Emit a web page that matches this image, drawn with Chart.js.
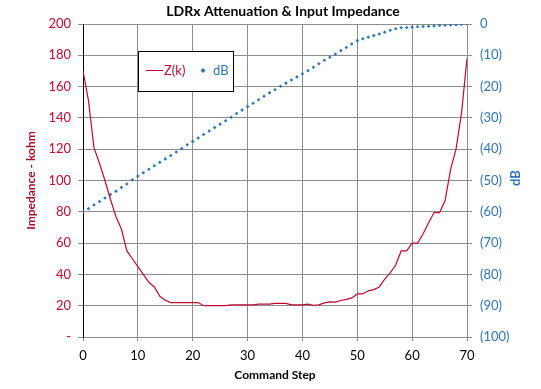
<!DOCTYPE html>
<html>
<head>
<meta charset="utf-8">
<script src="https://cdn.jsdelivr.net/npm/chart.js@4/dist/chart.umd.min.js"></script>
<style>
  html, body { margin: 0; padding: 0; background: #fff; }
  #wrap { width: 541px; height: 389px; position: relative; }
</style>
</head>
<body>
<div id="wrap"><canvas id="chart" width="541" height="389"></canvas></div>
<script>
// command steps 0..70
var steps = [0,1,2,3,4,5,6,7,8,9,10,11,12,13,14,15,16,17,18,19,20,21,22,23,24,25,26,27,28,29,30,
  31,32,33,34,35,36,37,38,39,40,41,42,43,44,45,46,47,48,49,50,51,52,53,54,55,56,57,58,59,60,
  61,62,63,64,65,66,67,68,69,70];

// input impedance, kohm
var impedance = [170,151,121,111,100,88,77,69,55,50,45,40,35,32,26,23.5,22,22,22,22,22,
  22,20,20,20,20,20,20.5,20.5,20.5,20.5,20.5,21,21,21,21.5,21.5,21.5,20.5,20.5,20.5,
  21,20.2,20.5,21.8,22.5,22.3,23.3,24,25,27.5,27.5,29.5,30.3,32,37,41,46,55,55,60,
  60,66,73,79.5,79.5,87,107,120,143,178];

// attenuation, dB
var atten = [-60,-59,-57.8,-56.7,-55.6,-54.5,-53.4,-52.2,-51.1,-49.8,-48.6,-47.5,-46.4,-45.3,-44.2,
  -43.1,-42,-40.9,-39.8,-38.6,-37.5,-36.4,-35.3,-34.2,-33.1,-32,-30.9,-29.8,-28.6,-27.5,-26.4,
  -25.3,-24.2,-23.1,-22,-21,-19.9,-18.9,-17.9,-16.9,-15.9,-14.9,-13.8,-12.7,-11.6,-10.6,-9.6,
  -8.5,-7.5,-6.4,-5.3,-4.7,-4.2,-3.7,-3.2,-2.6,-2.0,-1.5,-1.2,-1.1,-1.0,-0.9,-0.8,-0.7,-0.6,
  -0.5,-0.4,-0.3,-0.2,-0.1,0];

var titleText = 'LDRx Attenuation & Input Impedance';
var redCol = '#C00A30';
var blueCol = '#2E75B6';
var gridCol = '#8c8c8c';
var font = 'Lato, "Open Sans", sans-serif';

// title, legend box and rotated "dB" title drawn on the canvas
var extras = {
  id: 'extras',
  afterDraw: function(chart) {
    var ctx = chart.ctx;
    var area = chart.chartArea;
    ctx.save();
    ctx.font = 'bold 14px ' + font;
    ctx.textAlign = 'center';
    ctx.textBaseline = 'middle';
    ctx.fillStyle = '#000';
    ctx.fillText(titleText, (area.left + area.right) / 2 + 8, 11);
    ctx.textAlign = 'left';
    // legend box
    ctx.fillStyle = '#fff';
    ctx.fillRect(138, 51, 95, 40);
    ctx.strokeStyle = '#000';
    ctx.lineWidth = 1;
    ctx.strokeRect(138.5, 51.5, 95, 40);
    ctx.strokeStyle = redCol;
    ctx.beginPath();
    ctx.moveTo(146, 70.5);
    ctx.lineTo(163, 70.5);
    ctx.stroke();
    ctx.font = '13px ' + font;
    ctx.fillStyle = redCol;
    ctx.fillText('Z(k)', 164, 71);
    ctx.fillStyle = blueCol;
    ctx.beginPath();
    ctx.moveTo(203, 68);
    ctx.lineTo(205.5, 70.5);
    ctx.lineTo(203, 73);
    ctx.lineTo(200.5, 70.5);
    ctx.closePath();
    ctx.fill();
    ctx.fillText('dB', 213, 71);
    // right axis title
    ctx.translate(516, 178);
    ctx.rotate(-Math.PI / 2);
    ctx.font = 'bold 13px ' + font;
    ctx.textAlign = 'center';
    ctx.fillStyle = blueCol;
    ctx.fillText('dB', 0, 0);
    ctx.restore();
  }
};

new Chart(document.getElementById('chart'), {
  type: 'line',
  data: {
    labels: steps,
    datasets: [{
      label: 'Z(k)',
      data: impedance,
      borderColor: redCol,
      borderWidth: 1.2,
      pointRadius: 0,
      tension: 0,
      yAxisID: 'y'
    }, {
      label: 'dB',
      data: atten,
      showLine: false,
      pointStyle: 'rectRot',
      pointRadius: 1.8,
      pointBackgroundColor: blueCol,
      pointBorderColor: blueCol,
      pointBorderWidth: 0,
      yAxisID: 'y2'
    }]
  },
  options: {
    responsive: false,
    animation: false,
    layout: { padding: { top: 24, left: 24, right: 0, bottom: 7 } },
    plugins: {
      legend: { display: false },
      tooltip: { enabled: false },
      title: { display: false }
    },
    scales: {
      x: {
        type: 'linear',
        min: 0, max: 70,
        afterFit: function(s) { s.height = 45; },
        ticks: { stepSize: 10, color: '#000', font: { family: font, size: 13 }, padding: 7, maxRotation: 0 },
        grid: { color: gridCol, tickLength: 4 },
        border: { color: gridCol },
        title: { display: true, text: 'Command Step', color: '#000', font: { family: font, size: 12, weight: 'bold' }, padding: { top: 0, bottom: 0 } }
      },
      y: {
        position: 'left',
        min: 0, max: 200,
        afterFit: function(s) { s.width = 59; },
        ticks: {
          stepSize: 20, color: redCol, font: { family: font, size: 13 }, padding: 7,
          callback: function(v) { return v === 0 ? '-' : v; }
        },
        grid: { color: gridCol, tickLength: 5 },
        border: { color: '#000' },
        title: { display: true, text: 'Impedance - kohm', color: '#A0102A', font: { family: font, size: 12, weight: 'bold' }, padding: { top: 0, bottom: 0 } }
      },
      y2: {
        position: 'right',
        min: -100, max: 0,
        afterFit: function(s) { s.width = 74; },
        ticks: {
          stepSize: 10, color: blueCol, font: { family: font, size: 13 }, padding: 8,
          callback: function(v) { return v === 0 ? '0' : '(' + Math.abs(v) + ')'; }
        },
        grid: { drawOnChartArea: false, color: gridCol, tickLength: 5 },
        border: { color: gridCol }
      }
    }
  },
  plugins: [extras]
});
</script>
</body>
</html>
